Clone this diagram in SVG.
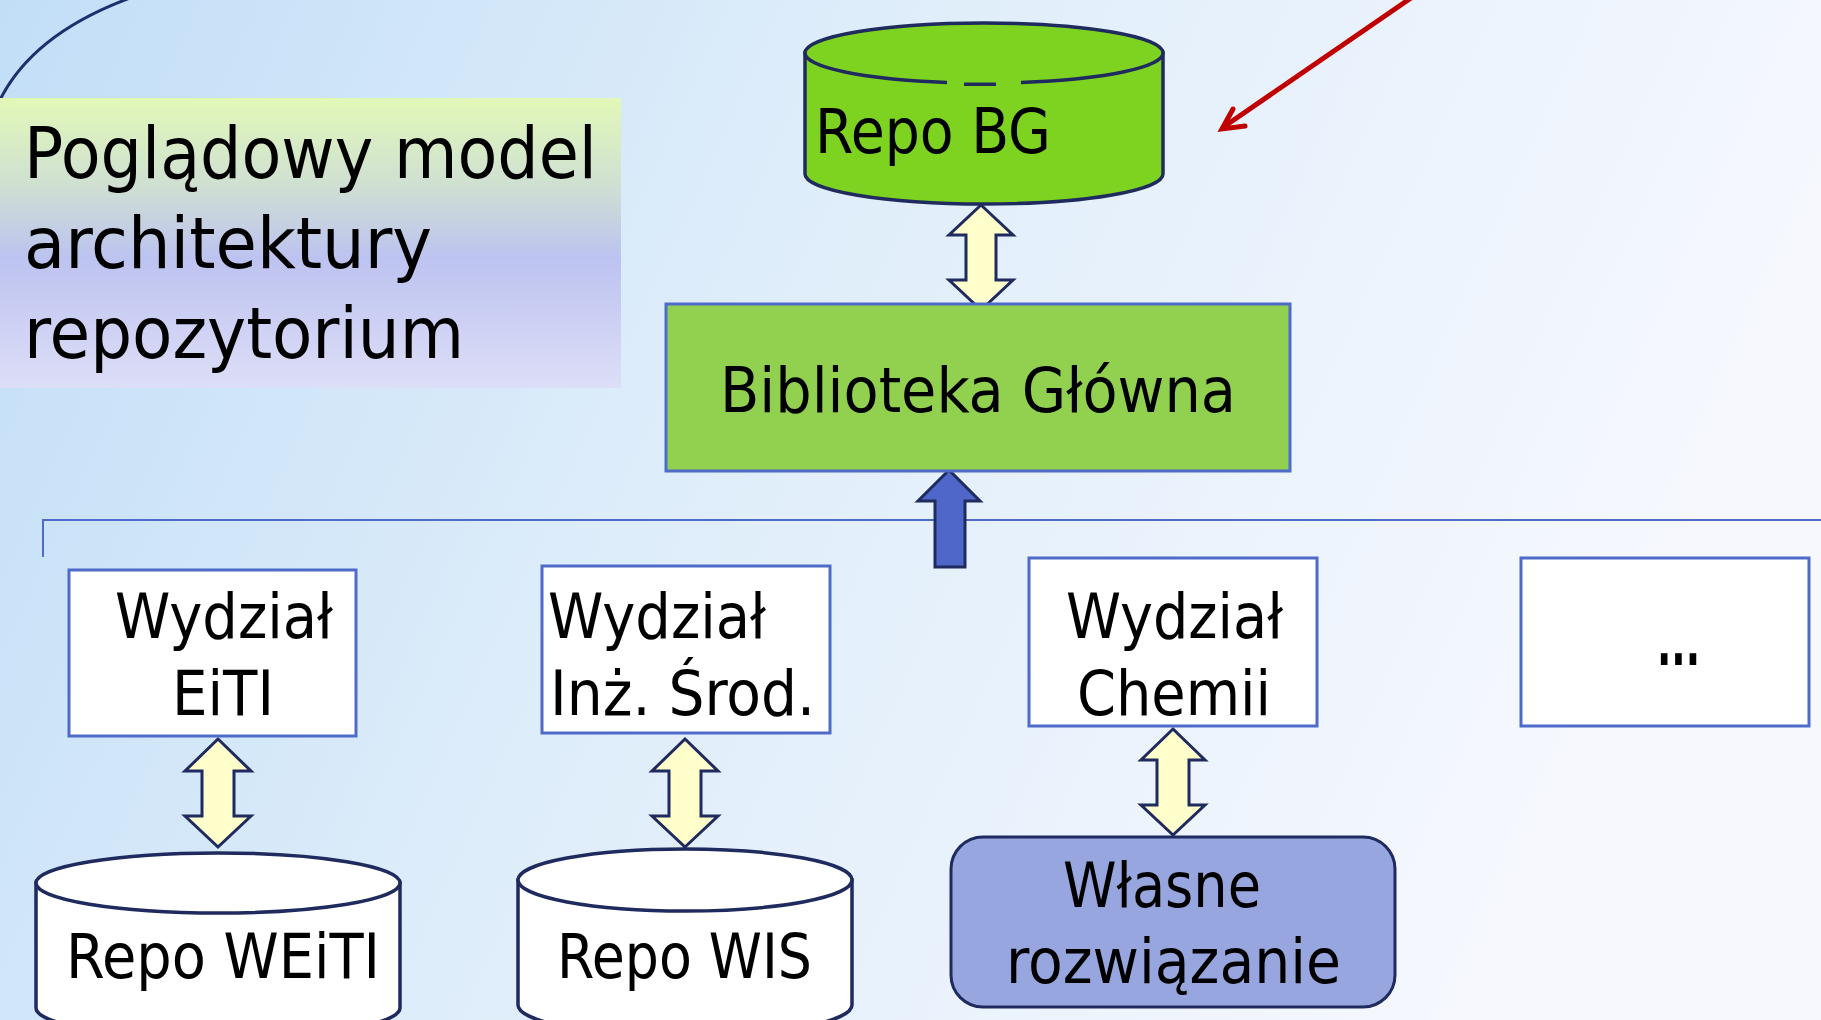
<svg xmlns="http://www.w3.org/2000/svg" width="1821" height="1020" viewBox="0 0 1821 1020">
<defs>
<linearGradient id="bg" x1="0" y1="0" x2="1" y2="0.25">
<stop offset="0" stop-color="#C2DEF7"/>
<stop offset="0.45" stop-color="#DEEDFA"/>
<stop offset="1" stop-color="#F6F8FE"/>
</linearGradient>
<linearGradient id="title" x1="0" y1="0" x2="0" y2="1">
<stop offset="0" stop-color="#E2F8B8"/>
<stop offset="0.3" stop-color="#CFE0D2"/>
<stop offset="0.55" stop-color="#BDC3F0"/>
<stop offset="1" stop-color="#DDDEF7"/>
</linearGradient>
<style>
text{font-family:"DejaVu Sans Condensed","DejaVu Sans","Liberation Sans",sans-serif;font-stretch:condensed;fill:#000;}
.t{font-size:63px;}
.tt{font-size:71px;}
.box{fill:#FFFFFF;stroke:#4F6BC9;stroke-width:3;}
.cyl{fill:#FFFFFF;stroke:#1F2A5E;stroke-width:3.5;}
.dbl{fill:#FFFFCC;stroke:#1F2A5E;stroke-width:3;stroke-linejoin:miter;}
</style>
</defs>
<rect width="1821" height="1020" fill="url(#bg)"/>
<path d="M-2,104 Q30,35 130,-2" fill="none" stroke="#1F2F6E" stroke-width="3"/>

<g id="title-box">
<rect x="0" y="98" width="621" height="290" fill="url(#title)"/>
<text class="tt" x="24" y="178" textLength="573" lengthAdjust="spacingAndGlyphs">Poglądowy model</text>
<text class="tt" x="24" y="268" textLength="408" lengthAdjust="spacingAndGlyphs">architektury</text>
<text class="tt" x="24" y="358" textLength="440" lengthAdjust="spacingAndGlyphs">repozytorium</text>
</g>

<g id="connectors">
<path d="M43,557 L43,520 L1821,520" fill="none" stroke="#4F6BC9" stroke-width="2"/>
<path class="dbl" d="M981,205 L1013,235 L996,235 L996,280 L1013,280 L981,310 L949,280 L966,280 L966,235 L949,235 Z"/>
<path d="M949,470 L980,501 L965,501 L965,567 L935,567 L935,501 L918,501 Z" fill="#4F67C8" stroke="#1F2A5E" stroke-width="3"/>
<path class="dbl" d="M218,739 L251,771 L234,771 L234,816 L251,816 L218,847 L185,816 L202,816 L202,771 L185,771 Z"/>
<path class="dbl" d="M685,739 L718,771 L701,771 L701,816 L718,816 L685,847 L652,816 L669,816 L669,771 L652,771 Z"/>
<path class="dbl" d="M1173,729 L1205,760 L1189,760 L1189,805 L1205,805 L1173,835 L1141,805 L1157,805 L1157,760 L1141,760 Z"/>
<line x1="1411" y1="-2" x2="1225" y2="126" stroke="#C00000" stroke-width="5"/>
<polyline points="1233,109 1222,129 1245,126" fill="none" stroke="#C00000" stroke-width="5" stroke-linecap="round" stroke-linejoin="miter"/>
</g>

<g id="repo-bg">
<path d="M805,53 L805,174 A179,30 0 0 0 1163,174 L1163,53 Z" fill="#7ED321" stroke="#1F2A5E" stroke-width="3.5"/>
<ellipse cx="984" cy="53" rx="179" ry="30" fill="#7ED321"/>
<path d="M805,53 A179,30 0 0 1 1163,53 A179,30 0 0 1 1021,82.4 M996,84.2 L964,84.2 M947,82.4 A179,30 0 0 1 805,53" fill="none" stroke="#1F2A5E" stroke-width="3.5"/>
<text class="t" x="815" y="153" textLength="236" lengthAdjust="spacingAndGlyphs">Repo BG</text>
</g>

<g id="biblioteka">
<rect x="666" y="304" width="624" height="167" fill="#92D050" stroke="#4F6BC9" stroke-width="3"/>
<text class="t" x="720" y="412" textLength="516" lengthAdjust="spacingAndGlyphs">Biblioteka Główna</text>
</g>

<g id="wydzial-eiti">
<rect class="box" x="69" y="570" width="287" height="166"/>
<text class="t" x="115" y="638" textLength="218" lengthAdjust="spacingAndGlyphs">Wydział</text>
<text class="t" x="172" y="715" textLength="102" lengthAdjust="spacingAndGlyphs">EiTI</text>
</g>

<g id="wydzial-wis">
<rect class="box" x="542" y="566" width="288" height="167"/>
<text class="t" x="548" y="638" textLength="218" lengthAdjust="spacingAndGlyphs">Wydział</text>
<text class="t" x="550" y="715" textLength="265" lengthAdjust="spacingAndGlyphs">Inż. Środ.</text>
</g>

<g id="wydzial-chemii">
<rect class="box" x="1029" y="558" width="288" height="168"/>
<text class="t" x="1066" y="638" textLength="217" lengthAdjust="spacingAndGlyphs">Wydział</text>
<text class="t" x="1077" y="715" textLength="194" lengthAdjust="spacingAndGlyphs">Chemii</text>
</g>

<g id="wydzial-more">
<rect class="box" x="1521" y="558" width="288" height="168"/>
<text class="t" x="1657" y="665" font-weight="bold" textLength="43" lengthAdjust="spacingAndGlyphs">...</text>
</g>

<g id="repo-weiti">
<path class="cyl" d="M36,883 L36,1008 A182,30 0 0 0 400,1008 L400,883 Z"/>
<ellipse class="cyl" cx="218" cy="883" rx="182" ry="30"/>
<text class="t" x="66" y="978" textLength="314" lengthAdjust="spacingAndGlyphs">Repo WEiTI</text>
</g>

<g id="repo-wis">
<path class="cyl" d="M518,880 L518,1005 A167,31 0 0 0 852,1005 L852,880 Z"/>
<ellipse class="cyl" cx="685" cy="880" rx="167" ry="31"/>
<text class="t" x="557" y="978" textLength="255" lengthAdjust="spacingAndGlyphs">Repo WIS</text>
</g>

<g id="wlasne">
<rect x="951" y="837" width="444" height="170" rx="32" ry="32" fill="#97A6DE" stroke="#1F2A5E" stroke-width="3"/>
<text class="t" x="1063" y="907" textLength="198" lengthAdjust="spacingAndGlyphs">Własne</text>
<text class="t" x="1006" y="983" textLength="335" lengthAdjust="spacingAndGlyphs">rozwiązanie</text>
</g>
</svg>
